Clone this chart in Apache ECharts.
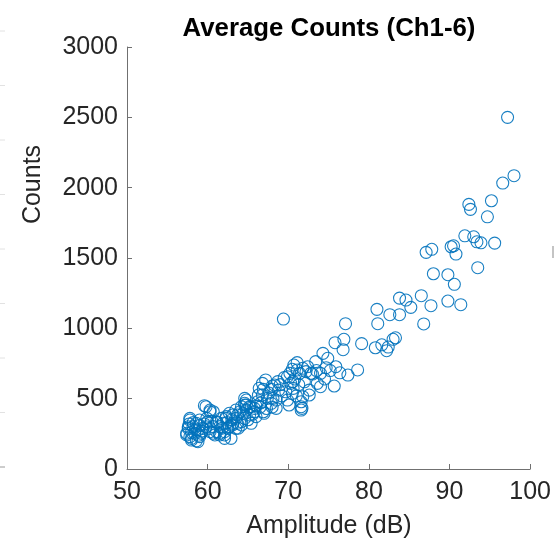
<!DOCTYPE html>
<html>
<head>
<meta charset="utf-8">
<style>
  html, body { margin: 0; padding: 0; background: #fff; }
  #chart { width: 554px; height: 546px; }
</style>
<script src="https://cdn.jsdelivr.net/npm/echarts@6/dist/echarts.min.js"></script>
</head>
<body>
<div id="chart"></div>
<script>
// Average amplitude (dB) per event
const amplitude = [
  97.2, 98.0, 96.6, 95.2, 94.7, 92.4, 92.6, 91.9, 93.0, 93.4, 93.9, 95.6, 93.5,
  87.1, 87.8, 90.2, 90.5, 90.8, 88.0, 89.8, 90.6, 86.5, 87.7, 89.8, 91.4,
  83.8, 84.6, 85.2, 81.0, 82.6, 83.8, 81.1, 86.8, 77.1, 75.8, 76.9, 76.8,
  79.1, 80.8, 81.6, 82.2, 82.4, 83.0, 83.3, 78.6, 75.9, 76.4, 77.4, 69.4,
  74.3, 73.4, 74.7, 75.7, 74.0, 73.0, 72.2, 71.8, 71.1, 71.1, 70.5, 69.9,
  70.6, 70.6, 72.6, 71.8, 71.6, 71.7, 69.9, 68.7, 68.3, 67.9, 66.9, 66.8,
  68.5, 68.5, 67.4, 66.3, 66.2, 66.9, 65.8, 65.4, 64.8, 64.6, 64.8, 64.2,
  63.5, 63.7, 63.1, 62.7, 62.3, 63.1, 61.9, 61.5, 61.1, 60.3, 59.8, 59.9,
  60.7, 60.3, 60.7, 62.1, 61.5, 59.4, 59.2, 58.6, 57.8, 57.6, 57.4, 58.0,
  58.8, 59.0, 58.4, 58.2, 58.8, 60.0, 61.1, 62.7, 63.7, 64.6, 64.2, 66.0,
  66.0, 65.4, 67.2, 72.4, 72.8, 71.4, 70.7, 70.3, 70.5, 69.7, 68.8, 68.1,
  67.9, 70.1, 71.6, 71.6, 72.6, 73.6, 74.0, 74.9, 64.6, 65.2, 65.8, 67.0,
  64.4, 65.2, 66.8, 66.4, 59.6, 60.3, 60.7, 57.8, 59.0, 57.4, 58.0, 58.6,
  57.8, 60.3, 60.9, 61.5, 62.1, 62.5, 63.1, 63.5, 64.0, 64.6, 64.8, 61.2,
  61.7, 62.3, 63.5, 64.2, 62.9, 62.1, 57.6, 58.2, 58.5, 59.0, 59.3, 58.0,
  57.7, 59.6, 58.9, 59.8, 60.5, 61.8, 62.4, 63.0, 63.8, 65.0, 65.6, 66.5,
  67.6, 68.0, 69.0, 69.5, 70.2, 70.8, 71.3, 72.0, 73.5, 74.5, 75.2, 71.0,
  69.2, 68.0, 67.3, 66.6
];

// Average counts per event (channels 1-6)
const counts = [
  2500, 2085, 2033, 1907, 1793, 1881, 1846, 1658, 1651, 1615, 1608, 1606, 1431,
  1540, 1562, 1580, 1587, 1528, 1388, 1381, 1313, 1232, 1161, 1194, 1168,
  1215, 1201, 1149, 1135, 1097, 1097, 1033, 1031, 1033, 898, 922, 848,
  891, 862, 883, 841, 867, 922, 933, 704, 727, 684, 668, 1066,
  822, 763, 720, 590, 585, 675, 692, 716, 756, 704, 709, 656,
  621, 573, 561, 514, 478, 431, 490, 621, 597, 566, 566, 526,
  490, 431, 502, 526, 478, 407, 407, 325, 490, 467, 419, 443,
  419, 384, 384, 396, 360, 325, 325, 301, 336, 407, 443, 360,
  301, 289, 254, 265, 242, 289, 254, 325, 348, 289, 254, 206,
  194, 230, 254, 301, 277, 336, 265, 301, 325, 360, 313, 372,
  448, 443, 633, 727, 680, 680, 739, 609, 538, 549, 561, 502,
  467, 455, 443, 419, 526, 609, 680, 787, 455, 443, 431, 396,
  396, 384, 609, 574, 450, 419, 407, 360, 348, 242, 218, 200,
  230, 265, 242, 254, 242, 289, 313, 360, 407, 502, 455, 330,
  360, 372, 289, 336, 218, 218, 300, 330, 280, 310, 270, 260,
  320, 320, 240, 300, 340, 290, 330, 350, 290, 350, 390, 440,
  540, 590, 600, 650, 680, 640, 600, 620, 700, 640, 700, 520,
  520, 440, 430, 470
];

// Axis ticks
const xTicks = [50, 60, 70, 80, 90, 100];
const yTicks = [0, 500, 1000, 1500, 2000, 2500, 3000];

const points = amplitude.map((a, i) => [a, counts[i]]);

const FONT = '"Liberation Sans", Arial, Helvetica, sans-serif';
const AXIS_GRAY = '#707070';
const TEXT = '#262626';

// faint tick stubs of a neighbouring panel along the left edge
const edgeStubs = [];
for (let k = 0; k < 9; k++) {
  const y = 467 - k * 54.5;
  edgeStubs.push({
    type: 'line',
    silent: true,
    shape: { x1: 0, y1: y, x2: 5, y2: y },
    style: { stroke: k === 0 ? '#9a9a9a' : '#e2e2e2', lineWidth: 1 }
  });
}

const chart = echarts.init(document.getElementById('chart'), null, { renderer: 'canvas' });

chart.setOption({
  backgroundColor: '#ffffff',
  animation: false,
  title: {
    text: 'Average Counts (Ch1-6)',
    left: 324,
    top: 11,
    textAlign: 'center',
    textStyle: { fontFamily: FONT, fontWeight: 'bold', fontSize: 25.8, color: '#000' }
  },
  grid: { left: 127, right: 22, top: 47, bottom: 77, containLabel: false },
  xAxis: {
    type: 'value',
    min: xTicks[0],
    max: xTicks[xTicks.length - 1],
    interval: 10,
    axisLine: { show: true, lineStyle: { color: AXIS_GRAY, width: 1 } },
    axisTick: { show: true, inside: true, length: 5, lineStyle: { color: AXIS_GRAY } },
    axisLabel: {
      margin: 11, fontFamily: FONT, fontSize: 25, color: TEXT,
      formatter: v => xTicks.includes(v) ? String(v) : ''
    },
    splitLine: { show: false }
  },
  yAxis: {
    type: 'value',
    min: yTicks[0],
    max: yTicks[yTicks.length - 1],
    interval: 500,
    axisLine: { show: true, lineStyle: { color: AXIS_GRAY, width: 1 } },
    axisTick: { show: true, inside: true, length: 5, lineStyle: { color: AXIS_GRAY } },
    axisLabel: {
      margin: 9, fontFamily: FONT, fontSize: 25, color: TEXT,
      formatter: v => yTicks.includes(v) ? String(v) : ''
    },
    splitLine: { show: false }
  },
  graphic: [
    {
      type: 'text',
      silent: true,
      x: 33, y: 184.5,
      rotation: Math.PI / 2,
      style: {
        text: 'Counts', fontFamily: FONT, fontSize: 25, fill: TEXT,
        align: 'center', verticalAlign: 'middle'
      }
    },
    {
      type: 'text',
      silent: true,
      x: 329, y: 526,
      style: {
        text: 'Amplitude (dB)', fontFamily: FONT, fontSize: 25, fill: TEXT,
        align: 'center', verticalAlign: 'middle'
      }
    },
    {
      type: 'rect',
      silent: true,
      shape: { x: 552, y: 246, width: 2, height: 12 },
      style: { fill: '#c4c4c4' }
    }
  ].concat(edgeStubs),
  series: [{
    type: 'scatter',
    data: points,
    symbol: 'circle',
    symbolSize: 12,
    itemStyle: { color: 'rgba(0,0,0,0)', borderColor: '#0072BD', borderWidth: 1.1, opacity: 0.9 },
    emphasis: { disabled: true }
  }]
});
</script>
</body>
</html>
